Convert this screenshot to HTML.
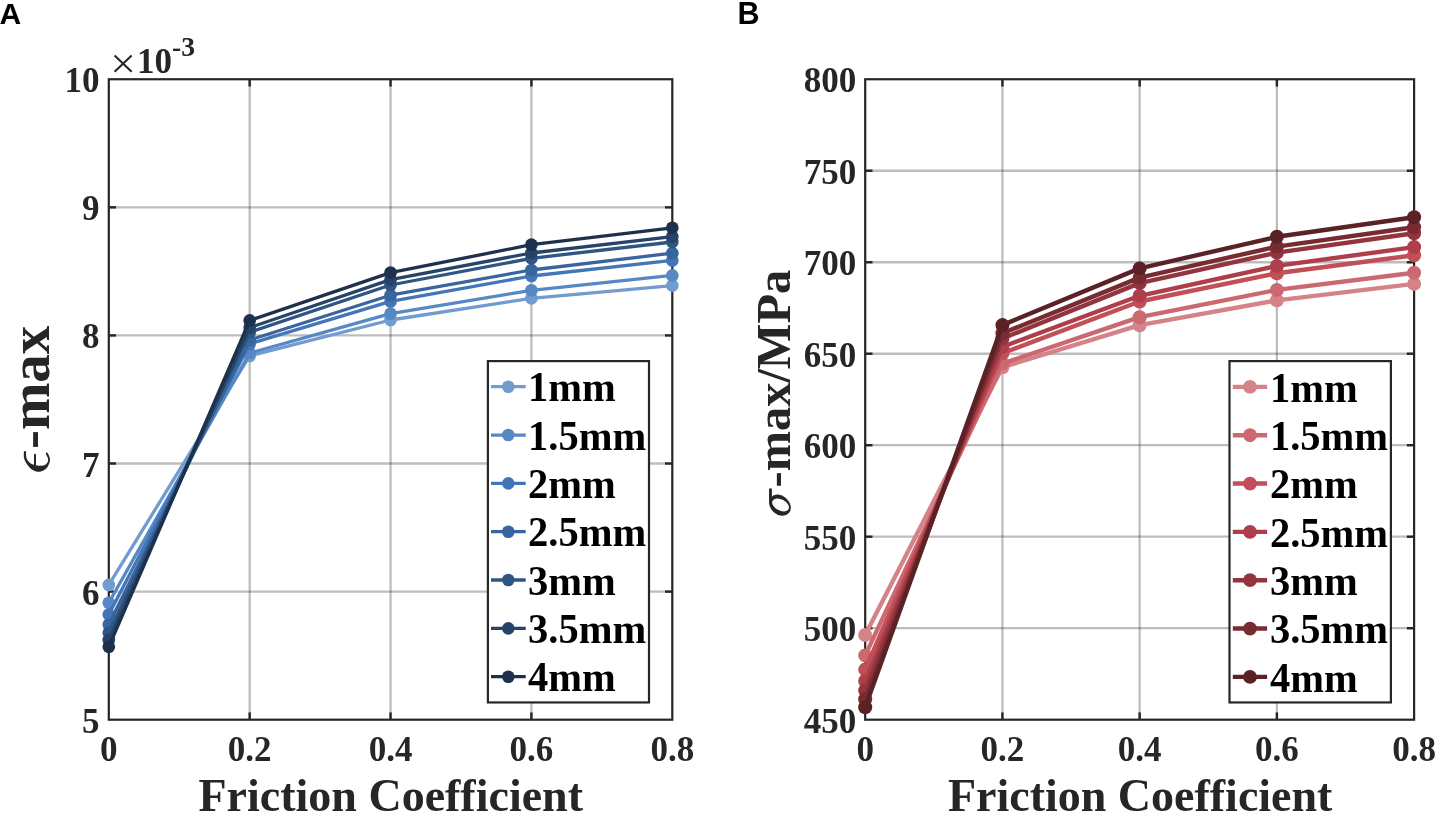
<!DOCTYPE html>
<html><head><meta charset="utf-8"><title>Figure</title>
<style>
html,body{margin:0;padding:0;background:#fff;}
body{width:1440px;height:817px;overflow:hidden;}
svg{display:block;will-change:transform;}
text{font-family:"Liberation Serif",serif;font-weight:bold;}
.sans{font-family:"Liberation Sans",sans-serif;font-weight:bold;}
.it{font-style:italic;font-weight:normal;}
</style></head><body>
<svg width="1440" height="817" viewBox="0 0 1440 817">
<rect width="1440" height="817" fill="#fff"/>
<g stroke="#262626" stroke-opacity="0.3" stroke-width="2.3"><line x1="249.68" y1="79.25" x2="249.68" y2="719.70"/><line x1="390.55" y1="79.25" x2="390.55" y2="719.70"/><line x1="531.42" y1="79.25" x2="531.42" y2="719.70"/><line x1="108.80" y1="207.34" x2="672.30" y2="207.34"/><line x1="108.80" y1="335.43" x2="672.30" y2="335.43"/><line x1="108.80" y1="463.52" x2="672.30" y2="463.52"/><line x1="108.80" y1="591.61" x2="672.30" y2="591.61"/></g>
<g stroke="#262626" stroke-width="2.4"><line x1="249.68" y1="719.70" x2="249.68" y2="712.40"/><line x1="249.68" y1="79.25" x2="249.68" y2="86.55"/><line x1="390.55" y1="719.70" x2="390.55" y2="712.40"/><line x1="390.55" y1="79.25" x2="390.55" y2="86.55"/><line x1="531.42" y1="719.70" x2="531.42" y2="712.40"/><line x1="531.42" y1="79.25" x2="531.42" y2="86.55"/><line x1="108.80" y1="207.34" x2="116.10" y2="207.34"/><line x1="672.30" y1="207.34" x2="665.00" y2="207.34"/><line x1="108.80" y1="335.43" x2="116.10" y2="335.43"/><line x1="672.30" y1="335.43" x2="665.00" y2="335.43"/><line x1="108.80" y1="463.52" x2="116.10" y2="463.52"/><line x1="672.30" y1="463.52" x2="665.00" y2="463.52"/><line x1="108.80" y1="591.61" x2="116.10" y2="591.61"/><line x1="672.30" y1="591.61" x2="665.00" y2="591.61"/></g>
<rect x="108.80" y="79.25" width="563.50" height="640.45" fill="none" stroke="#262626" stroke-width="2.2"/>
<polyline points="108.80,584.90 249.68,355.90 390.55,320.00 531.42,298.30 672.30,285.60" fill="none" stroke="#729BD0" stroke-width="3.3" stroke-linejoin="round"/>
<circle cx="108.80" cy="584.90" r="6.35" fill="#729BD0"/><circle cx="249.68" cy="355.90" r="6.35" fill="#729BD0"/><circle cx="390.55" cy="320.00" r="6.35" fill="#729BD0"/><circle cx="531.42" cy="298.30" r="6.35" fill="#729BD0"/><circle cx="672.30" cy="285.60" r="6.35" fill="#729BD0"/>
<polyline points="108.80,602.80 249.68,353.10 390.55,313.70 531.42,290.30 672.30,275.40" fill="none" stroke="#5788C6" stroke-width="3.3" stroke-linejoin="round"/>
<circle cx="108.80" cy="602.80" r="6.35" fill="#5788C6"/><circle cx="249.68" cy="353.10" r="6.35" fill="#5788C6"/><circle cx="390.55" cy="313.70" r="6.35" fill="#5788C6"/><circle cx="531.42" cy="290.30" r="6.35" fill="#5788C6"/><circle cx="672.30" cy="275.40" r="6.35" fill="#5788C6"/>
<polyline points="108.80,614.50 249.68,343.90 390.55,301.40 531.42,276.00 672.30,260.40" fill="none" stroke="#4376B8" stroke-width="3.3" stroke-linejoin="round"/>
<circle cx="108.80" cy="614.50" r="6.35" fill="#4376B8"/><circle cx="249.68" cy="343.90" r="6.35" fill="#4376B8"/><circle cx="390.55" cy="301.40" r="6.35" fill="#4376B8"/><circle cx="531.42" cy="276.00" r="6.35" fill="#4376B8"/><circle cx="672.30" cy="260.40" r="6.35" fill="#4376B8"/>
<polyline points="108.80,624.60 249.68,340.00 390.55,295.20 531.42,270.00 672.30,253.20" fill="none" stroke="#38659E" stroke-width="3.3" stroke-linejoin="round"/>
<circle cx="108.80" cy="624.60" r="6.35" fill="#38659E"/><circle cx="249.68" cy="340.00" r="6.35" fill="#38659E"/><circle cx="390.55" cy="295.20" r="6.35" fill="#38659E"/><circle cx="531.42" cy="270.00" r="6.35" fill="#38659E"/><circle cx="672.30" cy="253.20" r="6.35" fill="#38659E"/>
<polyline points="108.80,632.70 249.68,332.20 390.55,285.00 531.42,258.30 672.30,242.00" fill="none" stroke="#2F5583" stroke-width="3.3" stroke-linejoin="round"/>
<circle cx="108.80" cy="632.70" r="6.35" fill="#2F5583"/><circle cx="249.68" cy="332.20" r="6.35" fill="#2F5583"/><circle cx="390.55" cy="285.00" r="6.35" fill="#2F5583"/><circle cx="531.42" cy="258.30" r="6.35" fill="#2F5583"/><circle cx="672.30" cy="242.00" r="6.35" fill="#2F5583"/>
<polyline points="108.80,640.00 249.68,327.60 390.55,279.60 531.42,253.00 672.30,236.60" fill="none" stroke="#264368" stroke-width="3.3" stroke-linejoin="round"/>
<circle cx="108.80" cy="640.00" r="6.35" fill="#264368"/><circle cx="249.68" cy="327.60" r="6.35" fill="#264368"/><circle cx="390.55" cy="279.60" r="6.35" fill="#264368"/><circle cx="531.42" cy="253.00" r="6.35" fill="#264368"/><circle cx="672.30" cy="236.60" r="6.35" fill="#264368"/>
<polyline points="108.80,646.80 249.68,320.40 390.55,272.60 531.42,244.70 672.30,227.80" fill="none" stroke="#1D314D" stroke-width="3.3" stroke-linejoin="round"/>
<circle cx="108.80" cy="646.80" r="6.35" fill="#1D314D"/><circle cx="249.68" cy="320.40" r="6.35" fill="#1D314D"/><circle cx="390.55" cy="272.60" r="6.35" fill="#1D314D"/><circle cx="531.42" cy="244.70" r="6.35" fill="#1D314D"/><circle cx="672.30" cy="227.80" r="6.35" fill="#1D314D"/>
<rect x="487.90" y="361.10" width="161.10" height="341.35" fill="#fff" stroke="#262626" stroke-width="2.2"/>
<line x1="491.00" y1="386.70" x2="525.70" y2="386.70" stroke="#729BD0" stroke-width="3.3"/><circle cx="508.30" cy="386.70" r="6.3" fill="#729BD0"/>
<text transform="translate(528.10,401.40) scale(1,1.045)" font-size="40.5" fill="#000">1</text>
<text x="548.35" y="401.40" font-size="40.5" fill="#000">mm</text>
<line x1="491.00" y1="435.03" x2="525.70" y2="435.03" stroke="#5788C6" stroke-width="3.3"/><circle cx="508.30" cy="435.03" r="6.3" fill="#5788C6"/>
<text transform="translate(528.10,449.73) scale(1,1.045)" font-size="40.5" fill="#000">1.5</text>
<text x="578.73" y="449.73" font-size="40.5" fill="#000">mm</text>
<line x1="491.00" y1="483.36" x2="525.70" y2="483.36" stroke="#4376B8" stroke-width="3.3"/><circle cx="508.30" cy="483.36" r="6.3" fill="#4376B8"/>
<text transform="translate(528.10,498.06) scale(1,1.045)" font-size="40.5" fill="#000">2</text>
<text x="548.35" y="498.06" font-size="40.5" fill="#000">mm</text>
<line x1="491.00" y1="531.69" x2="525.70" y2="531.69" stroke="#38659E" stroke-width="3.3"/><circle cx="508.30" cy="531.69" r="6.3" fill="#38659E"/>
<text transform="translate(528.10,546.39) scale(1,1.045)" font-size="40.5" fill="#000">2.5</text>
<text x="578.73" y="546.39" font-size="40.5" fill="#000">mm</text>
<line x1="491.00" y1="580.02" x2="525.70" y2="580.02" stroke="#2F5583" stroke-width="3.3"/><circle cx="508.30" cy="580.02" r="6.3" fill="#2F5583"/>
<text transform="translate(528.10,594.72) scale(1,1.045)" font-size="40.5" fill="#000">3</text>
<text x="548.35" y="594.72" font-size="40.5" fill="#000">mm</text>
<line x1="491.00" y1="628.35" x2="525.70" y2="628.35" stroke="#264368" stroke-width="3.3"/><circle cx="508.30" cy="628.35" r="6.3" fill="#264368"/>
<text transform="translate(528.10,643.05) scale(1,1.045)" font-size="40.5" fill="#000">3.5</text>
<text x="578.73" y="643.05" font-size="40.5" fill="#000">mm</text>
<line x1="491.00" y1="676.68" x2="525.70" y2="676.68" stroke="#1D314D" stroke-width="3.3"/><circle cx="508.30" cy="676.68" r="6.3" fill="#1D314D"/>
<text transform="translate(528.10,691.38) scale(1,1.045)" font-size="40.5" fill="#000">4</text>
<text x="548.35" y="691.38" font-size="40.5" fill="#000">mm</text>
<text x="99.6" y="92.25" font-size="35" fill="#262626" text-anchor="end">10</text>
<text x="99.6" y="220.34" font-size="35" fill="#262626" text-anchor="end">9</text>
<text x="99.6" y="348.43" font-size="35" fill="#262626" text-anchor="end">8</text>
<text x="99.6" y="476.52" font-size="35" fill="#262626" text-anchor="end">7</text>
<text x="99.6" y="604.61" font-size="35" fill="#262626" text-anchor="end">6</text>
<text x="99.6" y="732.70" font-size="35" fill="#262626" text-anchor="end">5</text>
<text x="108.80" y="761.3" font-size="35" fill="#262626" text-anchor="middle">0</text>
<text x="249.68" y="761.3" font-size="35" fill="#262626" text-anchor="middle">0.2</text>
<text x="390.55" y="761.3" font-size="35" fill="#262626" text-anchor="middle">0.4</text>
<text x="531.42" y="761.3" font-size="35" fill="#262626" text-anchor="middle">0.6</text>
<text x="672.30" y="761.3" font-size="35" fill="#262626" text-anchor="middle">0.8</text>
<path d="M114.6,55.6 L131.6,71.8 M131.6,55.6 L114.6,71.8" stroke="#262626" stroke-width="2.1" fill="none"/>
<text x="137.0" y="73.3" font-size="35" fill="#262626">10</text>
<text x="172.0" y="55.9" font-size="27.6" fill="#262626">-3</text>
<text x="390.75" y="810.7" font-size="46" fill="#262626" text-anchor="middle">Friction Coefficient</text>
<text transform="translate(48.6,449.1) rotate(-90)" font-size="57" fill="#262626">-max</text>
<path fill="#262626" d="M23.88,451.88 L23.87,452.45 L23.84,453.27 L23.81,454.22 L23.80,455.23 L23.81,456.19 L23.88,457.02 L23.98,457.71 L24.11,458.33 L24.27,458.90 L24.46,459.47 L24.70,460.06 L24.98,460.70 L25.30,461.39 L25.66,462.11 L26.06,462.85 L26.50,463.61 L27.00,464.36 L27.55,465.10 L28.17,465.86 L28.86,466.65 L29.60,467.45 L30.37,468.21 L31.16,468.90 L31.96,469.51 L32.78,470.04 L33.65,470.51 L34.53,470.91 L35.42,471.25 L36.28,471.52 L37.10,471.72 L37.88,471.83 L38.63,471.87 L39.35,471.83 L40.07,471.73 L40.79,471.57 L41.51,471.35 L42.26,471.07 L43.04,470.72 L43.81,470.32 L44.56,469.85 L45.27,469.34 L45.92,468.78 L46.52,468.15 L47.08,467.44 L47.60,466.69 L48.07,465.91 L48.49,465.12 L48.86,464.37 L49.17,463.63 L49.43,462.87 L49.64,462.12 L49.80,461.38 L49.91,460.65 L49.96,459.96 L49.95,459.30 L49.88,458.65 L49.76,458.03 L49.59,457.43 L49.41,456.85 L49.23,456.29 L49.02,455.73 L48.79,455.19 L48.54,454.66 L48.27,454.17 L48.01,453.73 L47.76,453.35 L47.50,453.04 L47.21,452.78 L46.93,452.58 L46.67,452.41 L46.45,452.28 L46.29,452.17 L45.74,453.90 L45.93,454.24 L46.20,454.71 L46.52,455.28 L46.85,455.88 L47.15,456.48 L47.39,457.02 L47.58,457.53 L47.76,458.03 L47.91,458.53 L48.02,459.01 L48.10,459.49 L48.12,459.96 L48.10,460.41 L48.04,460.86 L47.94,461.29 L47.80,461.72 L47.61,462.13 L47.39,462.53 L47.12,462.93 L46.82,463.33 L46.47,463.73 L46.08,464.10 L45.66,464.44 L45.19,464.74 L44.68,465.00 L44.14,465.24 L43.56,465.45 L42.93,465.62 L42.25,465.75 L41.51,465.84 L40.64,465.86 L39.61,465.81 L38.53,465.72 L37.50,465.62 L36.62,465.53 L36.00,465.47 L36.00,454.63 L35.63,454.01 L34.97,453.79 L34.31,454.01 L33.98,454.63 L33.98,465.03 L33.98,465.03 L33.59,464.85 L33.04,464.60 L32.40,464.31 L31.72,463.98 L31.06,463.63 L30.49,463.27 L30.00,462.89 L29.52,462.48 L29.08,462.05 L28.66,461.61 L28.27,461.15 L27.92,460.70 L27.60,460.23 L27.31,459.76 L27.05,459.27 L26.82,458.78 L26.62,458.27 L26.45,457.76 L26.32,457.22 L26.23,456.65 L26.17,456.08 L26.14,455.51 L26.11,454.96 L26.08,454.45 L26.06,453.95 L26.06,453.44 L26.06,452.96 L26.07,452.52 L26.08,452.15 L26.08,451.88 L25.79,451.22 L24.98,450.92 L24.17,451.22Z"/>
<text class="sans" x="-0.5" y="24.0" font-size="30" fill="#000">A</text>
<g stroke="#262626" stroke-opacity="0.3" stroke-width="2.3"><line x1="1002.42" y1="79.25" x2="1002.42" y2="719.70"/><line x1="1139.65" y1="79.25" x2="1139.65" y2="719.70"/><line x1="1276.88" y1="79.25" x2="1276.88" y2="719.70"/><line x1="865.20" y1="170.74" x2="1414.10" y2="170.74"/><line x1="865.20" y1="262.24" x2="1414.10" y2="262.24"/><line x1="865.20" y1="353.73" x2="1414.10" y2="353.73"/><line x1="865.20" y1="445.22" x2="1414.10" y2="445.22"/><line x1="865.20" y1="536.71" x2="1414.10" y2="536.71"/><line x1="865.20" y1="628.21" x2="1414.10" y2="628.21"/></g>
<g stroke="#262626" stroke-width="2.4"><line x1="1002.42" y1="719.70" x2="1002.42" y2="712.40"/><line x1="1002.42" y1="79.25" x2="1002.42" y2="86.55"/><line x1="1139.65" y1="719.70" x2="1139.65" y2="712.40"/><line x1="1139.65" y1="79.25" x2="1139.65" y2="86.55"/><line x1="1276.88" y1="719.70" x2="1276.88" y2="712.40"/><line x1="1276.88" y1="79.25" x2="1276.88" y2="86.55"/><line x1="865.20" y1="170.74" x2="872.50" y2="170.74"/><line x1="1414.10" y1="170.74" x2="1406.80" y2="170.74"/><line x1="865.20" y1="262.24" x2="872.50" y2="262.24"/><line x1="1414.10" y1="262.24" x2="1406.80" y2="262.24"/><line x1="865.20" y1="353.73" x2="872.50" y2="353.73"/><line x1="1414.10" y1="353.73" x2="1406.80" y2="353.73"/><line x1="865.20" y1="445.22" x2="872.50" y2="445.22"/><line x1="1414.10" y1="445.22" x2="1406.80" y2="445.22"/><line x1="865.20" y1="536.71" x2="872.50" y2="536.71"/><line x1="1414.10" y1="536.71" x2="1406.80" y2="536.71"/><line x1="865.20" y1="628.21" x2="872.50" y2="628.21"/><line x1="1414.10" y1="628.21" x2="1406.80" y2="628.21"/></g>
<rect x="865.20" y="79.25" width="548.90" height="640.45" fill="none" stroke="#262626" stroke-width="2.2"/>
<polyline points="865.20,634.95 1002.42,367.20 1139.65,325.20 1276.88,300.40 1414.10,283.90" fill="none" stroke="#D58388" stroke-width="4.4" stroke-linejoin="round"/>
<circle cx="865.20" cy="634.95" r="7.0" fill="#D58388"/><circle cx="1002.42" cy="367.20" r="7.0" fill="#D58388"/><circle cx="1139.65" cy="325.20" r="7.0" fill="#D58388"/><circle cx="1276.88" cy="300.40" r="7.0" fill="#D58388"/><circle cx="1414.10" cy="283.90" r="7.0" fill="#D58388"/>
<polyline points="865.20,655.40 1002.42,363.60 1139.65,317.20 1276.88,289.90 1414.10,272.80" fill="none" stroke="#CB6870" stroke-width="4.4" stroke-linejoin="round"/>
<circle cx="865.20" cy="655.40" r="7.0" fill="#CB6870"/><circle cx="1002.42" cy="363.60" r="7.0" fill="#CB6870"/><circle cx="1139.65" cy="317.20" r="7.0" fill="#CB6870"/><circle cx="1276.88" cy="289.90" r="7.0" fill="#CB6870"/><circle cx="1414.10" cy="272.80" r="7.0" fill="#CB6870"/>
<polyline points="865.20,669.60 1002.42,353.20 1139.65,301.50 1276.88,273.30 1414.10,255.20" fill="none" stroke="#C24F57" stroke-width="4.4" stroke-linejoin="round"/>
<circle cx="865.20" cy="669.60" r="7.0" fill="#C24F57"/><circle cx="1002.42" cy="353.20" r="7.0" fill="#C24F57"/><circle cx="1139.65" cy="301.50" r="7.0" fill="#C24F57"/><circle cx="1276.88" cy="273.30" r="7.0" fill="#C24F57"/><circle cx="1414.10" cy="255.20" r="7.0" fill="#C24F57"/>
<polyline points="865.20,681.00 1002.42,346.80 1139.65,295.80 1276.88,265.90 1414.10,247.10" fill="none" stroke="#AE3E49" stroke-width="4.4" stroke-linejoin="round"/>
<circle cx="865.20" cy="681.00" r="7.0" fill="#AE3E49"/><circle cx="1002.42" cy="346.80" r="7.0" fill="#AE3E49"/><circle cx="1139.65" cy="295.80" r="7.0" fill="#AE3E49"/><circle cx="1276.88" cy="265.90" r="7.0" fill="#AE3E49"/><circle cx="1414.10" cy="247.10" r="7.0" fill="#AE3E49"/>
<polyline points="865.20,690.50 1002.42,338.50 1139.65,283.10 1276.88,252.60 1414.10,233.20" fill="none" stroke="#93353E" stroke-width="4.4" stroke-linejoin="round"/>
<circle cx="865.20" cy="690.50" r="7.0" fill="#93353E"/><circle cx="1002.42" cy="338.50" r="7.0" fill="#93353E"/><circle cx="1139.65" cy="283.10" r="7.0" fill="#93353E"/><circle cx="1276.88" cy="252.60" r="7.0" fill="#93353E"/><circle cx="1414.10" cy="233.20" r="7.0" fill="#93353E"/>
<polyline points="865.20,699.20 1002.42,333.30 1139.65,277.60 1276.88,246.60 1414.10,227.30" fill="none" stroke="#782C31" stroke-width="4.4" stroke-linejoin="round"/>
<circle cx="865.20" cy="699.20" r="7.0" fill="#782C31"/><circle cx="1002.42" cy="333.30" r="7.0" fill="#782C31"/><circle cx="1139.65" cy="277.60" r="7.0" fill="#782C31"/><circle cx="1276.88" cy="246.60" r="7.0" fill="#782C31"/><circle cx="1414.10" cy="227.30" r="7.0" fill="#782C31"/>
<polyline points="865.20,707.30 1002.42,325.10 1139.65,268.40 1276.88,236.80 1414.10,217.20" fill="none" stroke="#5B2226" stroke-width="4.4" stroke-linejoin="round"/>
<circle cx="865.20" cy="707.30" r="7.0" fill="#5B2226"/><circle cx="1002.42" cy="325.10" r="7.0" fill="#5B2226"/><circle cx="1139.65" cy="268.40" r="7.0" fill="#5B2226"/><circle cx="1276.88" cy="236.80" r="7.0" fill="#5B2226"/><circle cx="1414.10" cy="217.20" r="7.0" fill="#5B2226"/>
<rect x="1229.50" y="361.10" width="161.40" height="341.35" fill="#fff" stroke="#262626" stroke-width="2.2"/>
<line x1="1232.80" y1="386.90" x2="1267.10" y2="386.90" stroke="#D58388" stroke-width="4.4"/><circle cx="1250.00" cy="386.90" r="6.9" fill="#D58388"/>
<text transform="translate(1270.00,401.60) scale(1,1.045)" font-size="40.5" fill="#000">1</text>
<text x="1290.25" y="401.60" font-size="40.5" fill="#000">mm</text>
<line x1="1232.80" y1="435.23" x2="1267.10" y2="435.23" stroke="#CB6870" stroke-width="4.4"/><circle cx="1250.00" cy="435.23" r="6.9" fill="#CB6870"/>
<text transform="translate(1270.00,449.93) scale(1,1.045)" font-size="40.5" fill="#000">1.5</text>
<text x="1320.62" y="449.93" font-size="40.5" fill="#000">mm</text>
<line x1="1232.80" y1="483.56" x2="1267.10" y2="483.56" stroke="#C24F57" stroke-width="4.4"/><circle cx="1250.00" cy="483.56" r="6.9" fill="#C24F57"/>
<text transform="translate(1270.00,498.26) scale(1,1.045)" font-size="40.5" fill="#000">2</text>
<text x="1290.25" y="498.26" font-size="40.5" fill="#000">mm</text>
<line x1="1232.80" y1="531.89" x2="1267.10" y2="531.89" stroke="#AE3E49" stroke-width="4.4"/><circle cx="1250.00" cy="531.89" r="6.9" fill="#AE3E49"/>
<text transform="translate(1270.00,546.59) scale(1,1.045)" font-size="40.5" fill="#000">2.5</text>
<text x="1320.62" y="546.59" font-size="40.5" fill="#000">mm</text>
<line x1="1232.80" y1="580.22" x2="1267.10" y2="580.22" stroke="#93353E" stroke-width="4.4"/><circle cx="1250.00" cy="580.22" r="6.9" fill="#93353E"/>
<text transform="translate(1270.00,594.92) scale(1,1.045)" font-size="40.5" fill="#000">3</text>
<text x="1290.25" y="594.92" font-size="40.5" fill="#000">mm</text>
<line x1="1232.80" y1="628.55" x2="1267.10" y2="628.55" stroke="#782C31" stroke-width="4.4"/><circle cx="1250.00" cy="628.55" r="6.9" fill="#782C31"/>
<text transform="translate(1270.00,643.25) scale(1,1.045)" font-size="40.5" fill="#000">3.5</text>
<text x="1320.62" y="643.25" font-size="40.5" fill="#000">mm</text>
<line x1="1232.80" y1="676.88" x2="1267.10" y2="676.88" stroke="#5B2226" stroke-width="4.4"/><circle cx="1250.00" cy="676.88" r="6.9" fill="#5B2226"/>
<text transform="translate(1270.00,691.58) scale(1,1.045)" font-size="40.5" fill="#000">4</text>
<text x="1290.25" y="691.58" font-size="40.5" fill="#000">mm</text>
<text x="856.2" y="92.25" font-size="35" fill="#262626" text-anchor="end">800</text>
<text x="856.2" y="183.74" font-size="35" fill="#262626" text-anchor="end">750</text>
<text x="856.2" y="275.24" font-size="35" fill="#262626" text-anchor="end">700</text>
<text x="856.2" y="366.73" font-size="35" fill="#262626" text-anchor="end">650</text>
<text x="856.2" y="458.22" font-size="35" fill="#262626" text-anchor="end">600</text>
<text x="856.2" y="549.71" font-size="35" fill="#262626" text-anchor="end">550</text>
<text x="856.2" y="641.21" font-size="35" fill="#262626" text-anchor="end">500</text>
<text x="856.2" y="732.70" font-size="35" fill="#262626" text-anchor="end">450</text>
<text x="865.20" y="761.3" font-size="35" fill="#262626" text-anchor="middle">0</text>
<text x="1002.42" y="761.3" font-size="35" fill="#262626" text-anchor="middle">0.2</text>
<text x="1139.65" y="761.3" font-size="35" fill="#262626" text-anchor="middle">0.4</text>
<text x="1276.88" y="761.3" font-size="35" fill="#262626" text-anchor="middle">0.6</text>
<text x="1414.10" y="761.3" font-size="35" fill="#262626" text-anchor="middle">0.8</text>
<text x="1140.2" y="810.7" font-size="46" fill="#262626" text-anchor="middle">Friction Coefficient</text>
<text transform="translate(790.3,487.4) rotate(-90)" font-size="48.4" fill="#262626">-max/MPa</text>
<path fill="#262626" fill-rule="evenodd" d="M770.99,497.20 A11.97,9.33 41.6 1 0 788.89,513.10 A11.97,9.33 41.6 1 0 770.99,497.20Z M772.65,500.67 A9.0,5.6 28 1 0 788.55,509.13 A9.0,5.6 28 1 0 772.65,500.67Z"/><path fill="#262626" d="M769.05,504 L769.05,489.6 A1.43,1.43 0 0 1 771.9,489.6 L771.9,500 Z"/>
<text class="sans" x="737.4" y="24.0" font-size="30.5" fill="#000">B</text>
</svg></body></html>
